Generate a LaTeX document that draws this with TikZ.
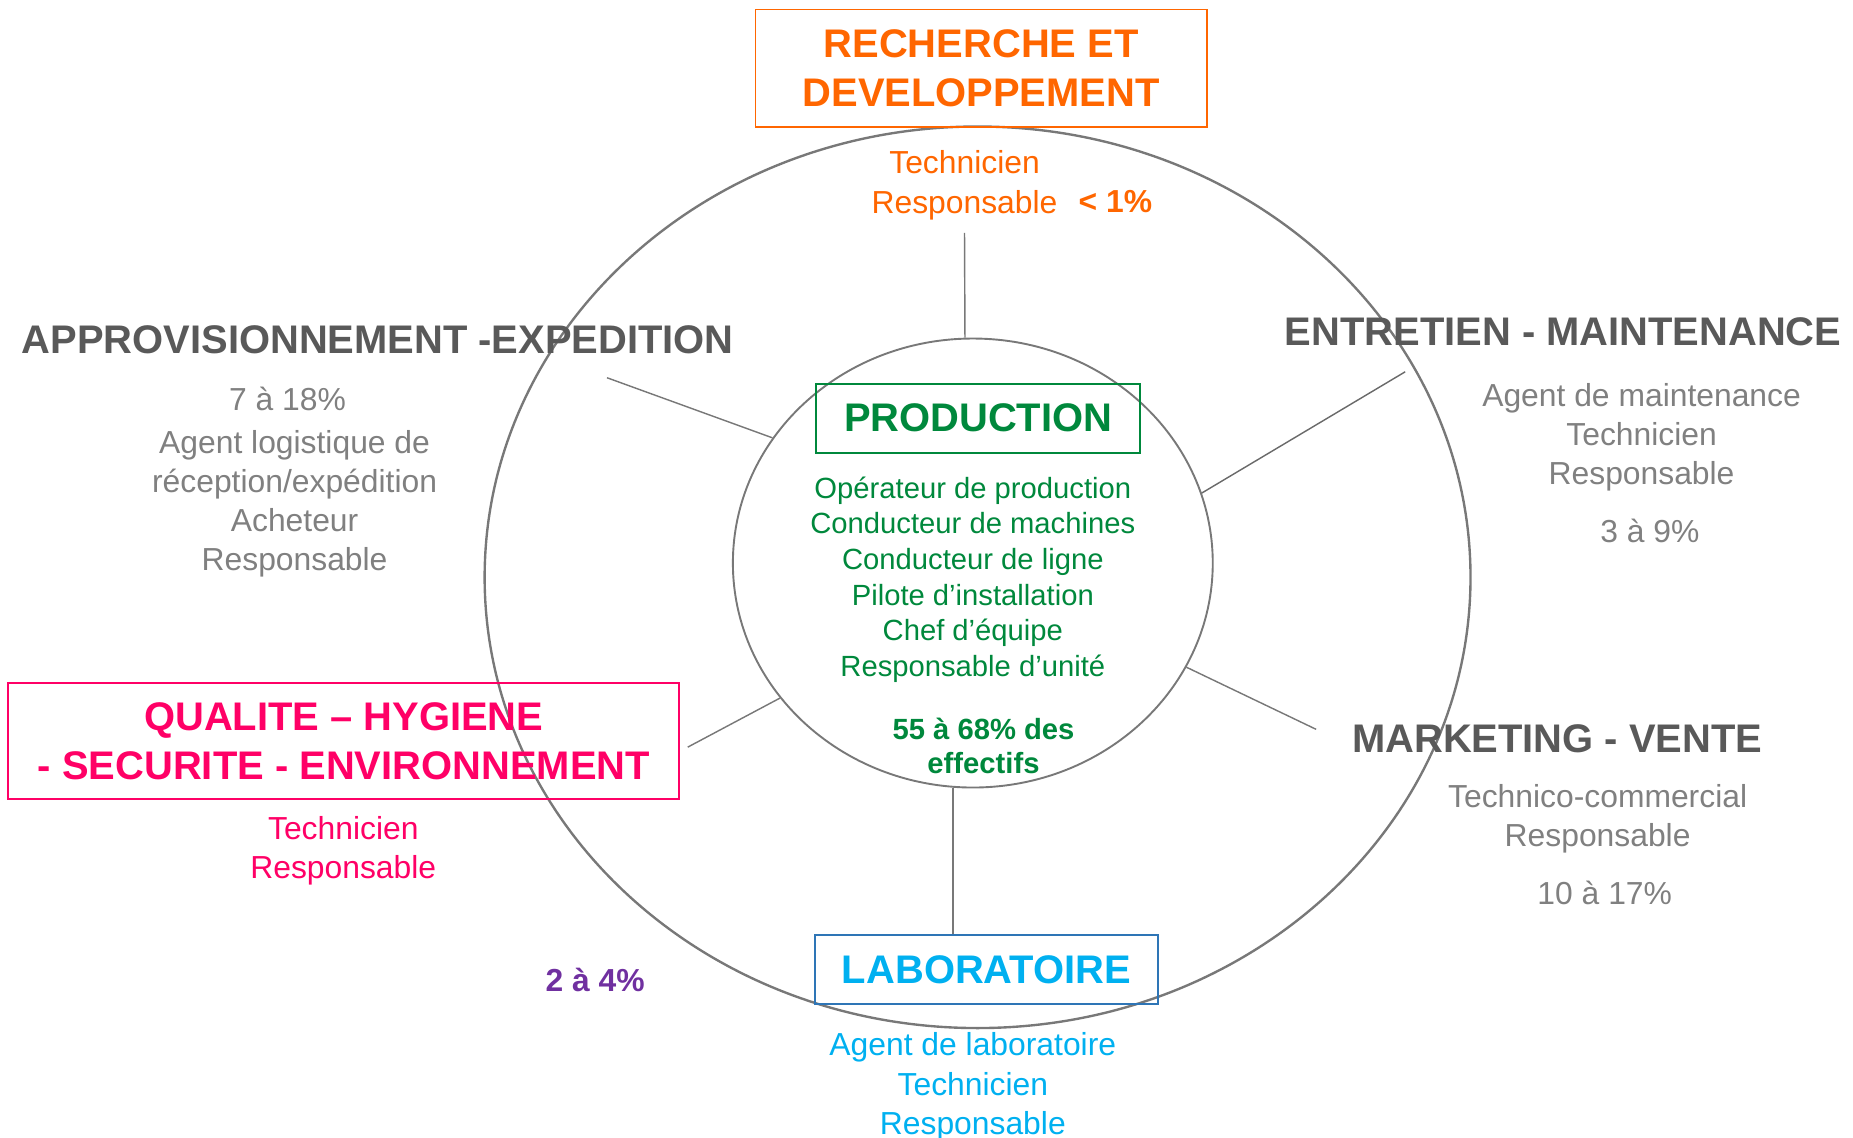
\documentclass[tikz,border=0pt]{standalone}
\usepackage{fontspec}
\setmainfont{Liberation Sans}
\usepackage{tikz}
\usetikzlibrary{shapes.geometric,positioning}
\definecolor{rdorange}{RGB}{255, 102, 0}
\definecolor{headgray}{RGB}{89, 89, 89}
\definecolor{jobgray}{RGB}{128, 128, 128}
\definecolor{ringgray}{RGB}{120, 120, 120}
\definecolor{prodgreen}{RGB}{0, 136, 60}
\definecolor{qhsepink}{RGB}{255, 0, 102}
\definecolor{labcyan}{RGB}{0, 176, 240}
\definecolor{labblue}{RGB}{46, 117, 182}
\definecolor{pctpurple}{RGB}{112, 48, 160}
\tikzstyle{headbox} = [rectangle, draw, line width=0.8pt, inner sep=0pt, align=center, font=\bfseries\fontsize{16.8}{20.5}\selectfont]
\tikzstyle{head} = [text=headgray, align=center, inner sep=0pt, font=\bfseries\fontsize{16.8}{20}\selectfont]
\tikzstyle{jobs} = [align=center, inner sep=0pt, font=\fontsize{13.4}{16.5}\selectfont]
\tikzstyle{prodjobs} = [text=prodgreen, align=center, inner sep=0pt, font=\fontsize{12.3}{15}\selectfont]
\tikzstyle{pct} = [align=center, inner sep=0pt, font=\bfseries\fontsize{13.4}{14.5}\selectfont]
\tikzstyle{ring} = [ellipse, draw=ringgray, line width=1pt, inner sep=0pt]
\tikzstyle{tedge} = [draw, line width=0.6pt, color=ringgray]

\begin{document}
\begin{tikzpicture}[x=0.5pt, y=-0.5pt]
\useasboundingbox (0,0) rectangle (1560,958);

% circles =============================
\node[ring, minimum width=415pt, minimum height=379.5pt] (outer) at (823,486) {};
\node[ring, line width=0.8pt, minimum width=202pt, minimum height=189pt] (prodell) at (819,474) {};

% recherche et developpement
\node[headbox, draw=rdorange, text=rdorange, minimum width=190pt, minimum height=49.5pt] (rd) at (826,57.5) {RECHERCHE ET\\DEVELOPPEMENT};
\node[jobs, text=rdorange] (rdjobs) at (812,156) {Technicien\\Responsable};
\node[pct, text=rdorange] (rdpct) at (939,170) {< 1\%};
\coordinate (rdend) at (812,196);

% approvisionnement
\node[head] (appro) at (318,286) {APPROVISIONNEMENT -EXPEDITION};
\node[jobs, text=jobgray] (appct) at (242,336) {7 à 18\%};
\node[jobs, text=jobgray] (apjobs) at (248,424) {Agent logistique de\\réception/expédition\\Acheteur\\Responsable};
\coordinate (apend) at (511,318);

% entretien
\node[head] (entr) at (1316,279) {ENTRETIEN - MAINTENANCE};
\node[jobs, text=jobgray] (enjobs) at (1382,368) {Agent de maintenance\\Technicien\\Responsable};
\node[jobs, text=jobgray] (enpct) at (1389,447) {3 à 9\%};
\coordinate (enend) at (1183,313);

% production
\node[headbox, draw=prodgreen, text=prodgreen, minimum width=136.5pt, minimum height=29pt] (prod) at (823.5,352) {PRODUCTION};
\node[prodjobs] (prodjobs) at (819,488) {Opérateur de production\\Conducteur de machines\\Conducteur de ligne\\Pilote d’installation\\Chef d’équipe\\Responsable d’unité};
\node[pct, text=prodgreen, font=\bfseries\fontsize{12.3}{14.5}\selectfont] (prodpct) at (828,628) {55 à 68\% des\\effectifs};

% qualite
\node[headbox, draw=qhsepink, text=qhsepink, minimum width=282.5pt, minimum height=49pt] (qhse) at (289.5,624) {QUALITE -- HYGIENE\\- SECURITE - ENVIRONNEMENT};
\node[jobs, text=qhsepink] (qhsejobs) at (289,716) {Technicien\\Responsable};
\coordinate (qhend) at (579,629);

% marketing
\node[head] (mkt) at (1311,622) {MARKETING - VENTE};
\node[jobs, text=jobgray] (mktjobs) at (1345,689) {Technico-commercial\\Responsable};
\node[jobs, text=jobgray] (mktpct) at (1351,752) {10 à 17\%};
\coordinate (mkend) at (1108,614);

% laboratoire
\node[headbox, draw=labblue, text=labcyan, minimum width=144.5pt, minimum height=29pt] (lab) at (830.5,816) {LABORATOIRE};
\node[jobs, text=labcyan] (labjobs) at (819,915) {Agent de laboratoire\\Technicien\\Responsable};
\node[pct, text=pctpurple] (p24) at (501,825) {2 à 4\%};

%edges
\path[tedge] (rdend) -- (prodell.92);
\path[tedge] (apend) -- (prodell.148);
\path[tedge, color=headgray!90] (enend) -- (prodell.17);
\path[tedge] (qhend) -- (prodell.215);
\path[tedge] (mkend) -- (prodell.-26);
\path[tedge] (prodell.265) -- (prodell.265 |- lab.north);

\end{tikzpicture}
\end{document}
